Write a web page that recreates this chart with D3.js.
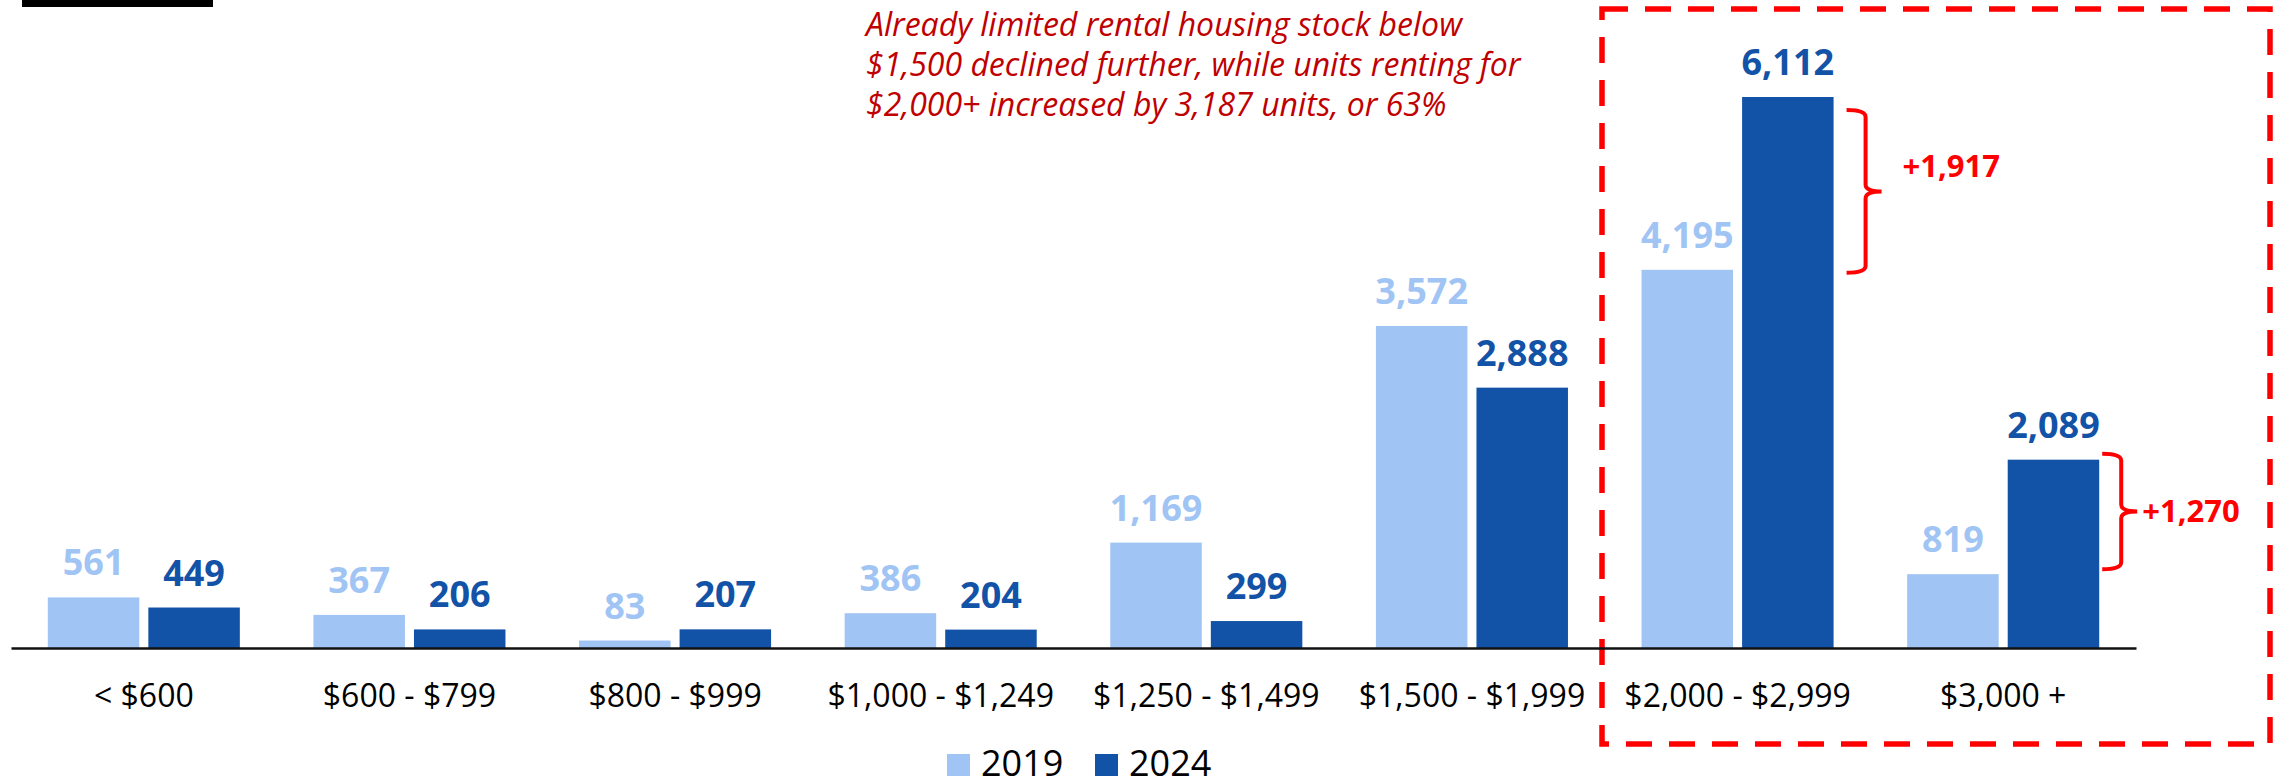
<!DOCTYPE html>
<html>
<head>
<meta charset="utf-8">
<script src="https://cdn.jsdelivr.net/npm/d3@7"></script>
<style>
  body { margin:0; background:#fff; overflow:hidden; }
  svg { display:block; }
  text { font-family:"Open Sans", sans-serif; }
  .value { font-weight:700; font-size:36px; text-anchor:middle; }
  .xaxis text { font-size:32px; fill:#000; }
  .note { font-style:italic; font-size:32px; fill:#c00000; }
  .change { font-weight:700; font-size:31px; fill:#ff0000; }
  .legend text { font-size:36px; fill:#000; }
</style>
</head>
<body>
<svg id="rentgraph"></svg>
<script>
// rent brackets on the x axis
var categories = ["< $600","$600 - $799","$800 - $999","$1,000 - $1,249",
                  "$1,250 - $1,499","$1,500 - $1,999","$2,000 - $2,999","$3,000 +"]
var years = ["2019","2024"]
// number of rental units per bracket
var units2019 = [561,367,83,386,1169,3572,4195,819]
var units2024 = [449,206,207,204,299,2888,6112,2089]
var noteLines = ["Already limited rental housing stock below",
                 "$1,500 declined further, while units renting for",
                 "$2,000+ increased by 3,187 units, or 63%"]
var changeLabels = ["+1,917","+1,270"]

var colors = {"2019":"#a0c4f4","2024":"#1253a7"}

//draws a curly brace from yTop to yBottom, opening to the left at x0
var drawBrace = function(target,x0,yTop,yBottom,yMid)
{
    var x1 = x0+19, x2 = x1+16, r = 7
    var p = "M"+x0+","+yTop+
            " Q"+x1+","+yTop+" "+x1+","+(yTop+r)+
            " L"+x1+","+(yMid-r)+
            " Q"+x1+","+yMid+" "+x2+","+yMid+
            " Q"+x1+","+yMid+" "+x1+","+(yMid+r)+
            " L"+x1+","+(yBottom-r)+
            " Q"+x1+","+yBottom+" "+x0+","+yBottom
    target.append("path")
          .attr("d",p)
          .attr("fill","none")
          .attr("stroke","#ff0000")
          .attr("stroke-width",4)
    return x2
}

var initRentGraph = function()
{
    var screen = {width:2277,height:780}
    var svg = d3.select("#rentgraph")
                .attr("width",screen.width)
                .attr("height",screen.height)

    var baseline = 648

    var rows = categories.map(function(c,i)
    {
        return {cat:c, values:[{year:"2019",v:units2019[i]},{year:"2024",v:units2024[i]}]}
    })

    var xScale = d3.scaleBand()
        .domain(categories)
        .range([11,2136])
        .paddingInner(0.277)
        .paddingOuter(0.1385)

    var subScale = d3.scaleBand()
        .domain(years)
        .range([0,xScale.bandwidth()])
        .paddingInner(0.09)

    var yScale = d3.scaleLinear()
        .domain([0,d3.max(units2024.concat(units2019))])
        .range([baseline,97])

    //black tab in the corner
    svg.append("rect")
       .attr("x",22).attr("y",0)
       .attr("width",191).attr("height",7)
       .attr("fill","#000")

    //highlight box
    svg.append("rect")
       .attr("x",1602).attr("y",9)
       .attr("width",668).attr("height",735)
       .attr("fill","none")
       .attr("stroke","#ff0000")
       .attr("stroke-width",5.5)
       .attr("stroke-dasharray","26,17")

    var groups = svg.selectAll("g.group")
        .data(rows)
        .enter()
        .append("g")
        .classed("group",true)
        .attr("transform",function(d){return "translate("+xScale(d.cat)+",0)"})

    groups.selectAll("rect")
        .data(function(d){return d.values})
        .enter()
        .append("rect")
        .attr("x",function(d){return subScale(d.year)})
        .attr("y",function(d){return yScale(d.v)})
        .attr("width",subScale.bandwidth())
        .attr("height",function(d){return baseline-yScale(d.v)})
        .attr("fill",function(d){return colors[d.year]})

    groups.selectAll("text.value")
        .data(function(d){return d.values})
        .enter()
        .append("text")
        .classed("value",true)
        .attr("x",function(d){return subScale(d.year)+subScale.bandwidth()/2})
        .attr("y",function(d){return yScale(d.v)-22})
        .attr("fill",function(d){return colors[d.year]})
        .text(function(d){return d3.format(",")(d.v)})

    //x axis
    var xAxis = d3.axisBottom(xScale).tickSize(0).tickPadding(36)
    var ax = svg.append("g")
       .classed("xaxis",true)
       .attr("transform","translate(0,"+baseline+")")
       .call(xAxis)
    ax.select(".domain").attr("stroke","#111").attr("stroke-width",2.5)

    //annotation text
    svg.append("text")
       .classed("note",true)
       .selectAll("tspan")
       .data(noteLines)
       .enter()
       .append("tspan")
       .attr("x",866)
       .attr("y",function(d,i){return 36+i*40})
       .text(function(d){return d})

    //braces showing the change
    var right6 = xScale(categories[6])+subScale("2024")+subScale.bandwidth()
    var mid1 = (yScale(units2024[6])+13+yScale(units2019[6])+3)/2
    var tip1 = drawBrace(svg,right6+13,yScale(units2024[6])+13,yScale(units2019[6])+3,mid1)
    svg.append("text").classed("change",true)
       .attr("x",tip1+21).attr("y",mid1-14)
       .text(changeLabels[0])

    var right7 = xScale(categories[7])+subScale("2024")+subScale.bandwidth()
    var mid2 = (yScale(units2024[7])-6+yScale(units2019[7])-5)/2
    var tip2 = drawBrace(svg,right7+3,yScale(units2024[7])-6,yScale(units2019[7])-5,mid2)
    svg.append("text").classed("change",true)
       .attr("x",tip2+5).attr("y",mid2+11)
       .text(changeLabels[1])

    //legend
    var legend = svg.append("g").classed("legend",true)
    var entries = legend.selectAll("g")
        .data(years)
        .enter()
        .append("g")
        .attr("transform",function(d,i){return "translate("+(947+i*148)+",754)"})
    entries.append("rect")
        .attr("width",23).attr("height",22)
        .attr("fill",function(d){return colors[d]})
    entries.append("text")
        .attr("x",34).attr("y",22)
        .text(function(d){return d})
}

initRentGraph()
</script>
</body>
</html>
